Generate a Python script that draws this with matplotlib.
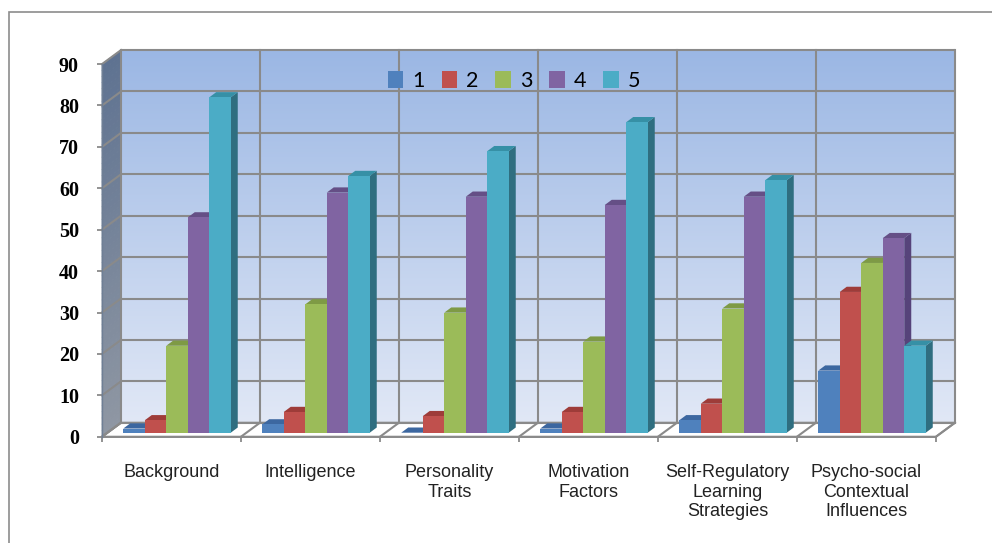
import numpy as np
import matplotlib
matplotlib.use('Agg')
import matplotlib.pyplot as plt
from matplotlib.patches import Polygon, Rectangle, Patch

categories = ['Background', 'Intelligence', 'Personality\nTraits', 'Motivation\nFactors',
              'Self-Regulatory\nLearning\nStrategies', 'Psycho-social\nContextual\nInfluences']
series_names = ['1', '2', '3', '4', '5']
s1 = [1, 2, 0, 1, 3, 15]
s2 = [3, 5, 4, 5, 7, 34]
s3 = [21, 31, 29, 22, 30, 41]
s4 = [52, 58, 57, 55, 57, 47]
s5 = [81, 62, 68, 75, 61, 21]
series = [s1, s2, s3, s4, s5]
yticks = list(range(0, 91, 10))

front_c = ['#4F81BD', '#C0504D', '#9BBB59', '#8064A2', '#4BACC6']
side_c = ['#385E8B', '#8E3A37', '#72893F', '#56437A', '#2F6E80']
top_c = ['#3C67A0', '#9E3C39', '#7E9A45', '#654F86', '#3690A6']
grid_c = '#8A8A8A'

W, H = 992, 543
fig = plt.figure(figsize=(W / 100, H / 100), dpi=100)
ax = fig.add_axes([102 / W, (H - 436.7) / H, 834 / W, 372.6 / H])
ax.set_xlim(-0.5, 5.5)
ax.set_ylim(0, 90)
ax.patch.set_visible(False)

pxx = 834 / 6
pxy = 372.6 / 90
def dx(p):
    return p / pxx
def dy(p):
    return p / pxy

bx, by = dx(19), dy(14)      # back wall offset
ox, oy = dx(5.5), dy(4)      # bar plane offset
sx, sy = dx(7), dy(5.2)      # bar depth
ymax = yticks[-1]
x0, x1 = -0.5, len(categories) - 0.5

# back wall gradient
top_rgb = np.array([155, 183, 228]) / 255
bot_rgb = np.array([225, 232, 246]) / 255
t = np.linspace(0, 1, 256).reshape(-1, 1, 1)
img = top_rgb * (1 - t) + bot_rgb * t
ax.imshow(img, extent=(x0 + bx, x1 + bx, by, ymax + by), aspect='auto',
          zorder=0, clip_on=False, interpolation='bilinear')

# left wall gradient bands
lw_top = np.array([94, 114, 145]) / 255
lw_bot = np.array([143, 151, 163]) / 255
n = 60
for i in range(n):
    ya = ymax * i / n
    yb = ymax * (i + 1) / n
    f = 1 - (i + 0.5) / n
    c = lw_top * (1 - f) + lw_bot * f
    ax.add_patch(Polygon([(x0, ya), (x0 + bx, ya + by), (x0 + bx, yb + by), (x0, yb)],
                         closed=True, facecolor=c, edgecolor=c, lw=0.6,
                         zorder=0.5, clip_on=False))

# floor
ax.add_patch(Polygon([(x0, 0), (x1, 0), (x1 + bx, by), (x0 + bx, by)], closed=True,
                     facecolor='white', edgecolor=grid_c, lw=1.4, zorder=1, clip_on=False))

# gridlines
glw = 1.5
for v in yticks:
    ax.plot([x0 + bx, x1 + bx], [v + by, v + by], color=grid_c, lw=glw, zorder=1.2,
            clip_on=False, solid_capstyle='butt')
    ax.plot([x0, x0 + bx], [v, v + by], color=grid_c, lw=glw, zorder=1.2, clip_on=False)
for k in range(len(categories) + 1):
    xb = x0 + k
    ax.plot([xb + bx, xb + bx], [by, ymax + by], color=grid_c, lw=glw, zorder=1.2,
            clip_on=False)
    ax.plot([xb, xb + bx], [0, by], color=grid_c, lw=glw, zorder=1.2, clip_on=False)

# bars
nser = len(series)
bw = 21.5 / pxx
z = 3
for ci in range(len(categories)):
    for si in range(nser):
        v = series[si][ci]
        xl = ci - nser * bw / 2 + si * bw + ox
        xr = xl + bw
        yb0 = oy
        yt = v + oy
        ax.add_patch(Polygon([(xr, yb0), (xr + sx, yb0 + sy), (xr + sx, yt + sy), (xr, yt)],
                             closed=True, facecolor=side_c[si], edgecolor='none',
                             zorder=z, clip_on=False))
        ax.add_patch(Polygon([(xl, yt), (xl + sx, yt + sy), (xr + sx, yt + sy), (xr, yt)],
                             closed=True, facecolor=top_c[si], edgecolor='none',
                             zorder=z, clip_on=False))
        ax.bar(xl, v, width=bw, bottom=yb0, align='edge', color=front_c[si],
               edgecolor='none', zorder=z + 0.5, clip_on=False)
        z += 1

# axes styling
for s in ['top', 'right']:
    ax.spines[s].set_visible(False)
ax.spines['left'].set_color('#6F7F95')
ax.spines['left'].set_linewidth(1.0)
ax.spines['bottom'].set_color(grid_c)
ax.spines['bottom'].set_linewidth(1.4)
ax.spines['bottom'].set_zorder(1.3)

ax.set_yticks(yticks)
ax.set_yticklabels([str(v) for v in yticks], fontfamily='Liberation Serif',
                   fontweight='bold', fontsize=14.5)
ax.tick_params(axis='y', direction='out', length=3.6, width=1.3, color=grid_c, pad=13)

ax.set_xticks(range(len(categories)))
ax.set_xticklabels(categories, fontfamily='Liberation Sans', fontsize=13,
                   linespacing=1.18, color='#222222')
ax.tick_params(axis='x', which='major', length=0, pad=20)
ax.set_xticks(np.arange(x0, x1 + 0.01, 1), minor=True)
ax.tick_params(axis='x', which='minor', direction='out', length=3.6, width=1.3, color=grid_c)

handles = [Patch(facecolor=c, edgecolor='none') for c in front_c]
leg = ax.legend(handles, series_names, ncol=5, loc='center',
                bbox_to_anchor=(514 / W, 1 - 81 / H), bbox_transform=fig.transFigure,
                frameon=False, prop=dict(family='Lato', size=15.5),
                handlelength=0.72, handleheight=0.77, handletextpad=0.42,
                columnspacing=0.78, borderpad=0)
leg.set_zorder(20)

# outer frame
fig.add_artist(Rectangle((8.5 / W, -0.1), 1.2, (H - 12.5) / H + 0.1,
                         transform=fig.transFigure, fill=False,
                         edgecolor='#8C8C8C', lw=1.2))

fig.savefig('out.png', dpi=100)
